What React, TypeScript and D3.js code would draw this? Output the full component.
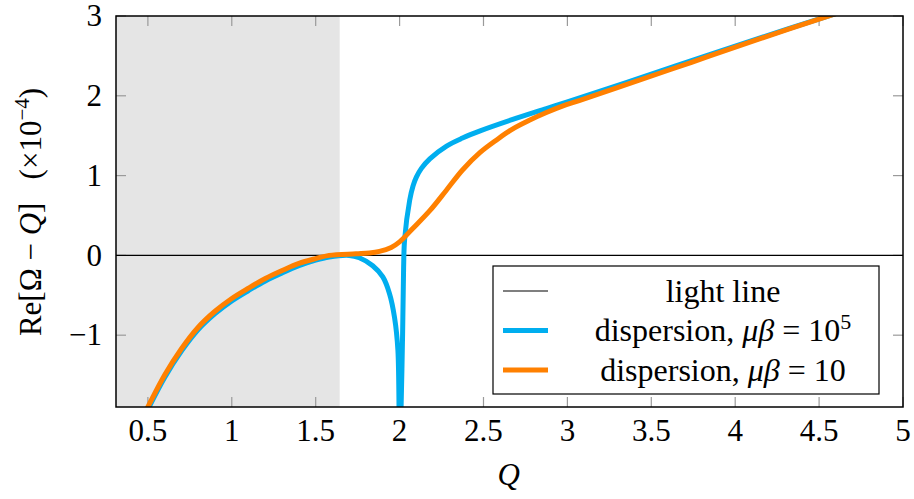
import React from "react";
import * as d3 from "d3";

// Re[Omega - Q] vs Q, two dispersion curves plus the light line
const xTicks = [0.5, 1, 1.5, 2, 2.5, 3, 3.5, 4, 4.5, 5];
const yTicks = [-1, 0, 1, 2, 3];
const shadeEnd = 1.643;

// mu*beta = 1e5 (blue)
const stiffQ = [0.46, 0.5, 0.6, 0.7, 0.8, 0.9, 1.0, 1.1, 1.2, 1.3, 1.4, 1.5, 1.58, 1.7, 1.76, 1.84, 1.9, 1.94, 1.97, 1.99, 2.0, 2.008, 2.018, 2.024, 2.03, 2.06, 2.08, 2.1, 2.13, 2.18, 2.28, 2.375, 2.48, 2.67, 2.875, 3.0, 3.35, 3.74, 4.14, 4.6, 4.7];
const stiffV = [-2.1, -1.93, -1.53, -1.2, -0.93, -0.73, -0.57, -0.44, -0.32, -0.22, -0.13, -0.06, -0.02, 0.0, -0.03, -0.13, -0.27, -0.48, -0.78, -1.19, -2.6, -2.0, -0.98, -0.15, 0.2, 0.69, 0.87, 0.98, 1.09, 1.21, 1.37, 1.47, 1.56, 1.7, 1.84, 1.925, 2.165, 2.44, 2.72, 3.03, 3.1];

// mu*beta = 10 (orange)
const softQ = [0.46, 0.5, 0.6, 0.7, 0.8, 0.9, 1.0, 1.1, 1.2, 1.3, 1.4, 1.5, 1.58, 1.74, 1.82, 1.88, 1.95, 2.0, 2.08, 2.18, 2.28, 2.375, 2.48, 2.58, 2.67, 2.77, 2.875, 2.97, 3.07, 3.35, 3.74, 4.14, 4.6, 4.7];
const softV = [-2.07, -1.9, -1.5, -1.17, -0.9, -0.7, -0.54, -0.41, -0.29, -0.19, -0.1, -0.04, 0.0, 0.02, 0.03, 0.05, 0.1, 0.17, 0.34, 0.56, 0.82, 1.07, 1.29, 1.45, 1.58, 1.69, 1.79, 1.87, 1.94, 2.14, 2.42, 2.71, 3.03, 3.1];

const W = 914, H = 499;
const m = { left: 116, right: 11, top: 16, bottom: 92 };
const FONT = "'Liberation Serif', 'DejaVu Serif', serif";
const BLUE = "#00aeef";
const ORANGE = "#ff8000";

export default function App() {
  const w = W - m.left - m.right;
  const h = H - m.top - m.bottom;
  const x = d3.scaleLinear().domain([0.31, 5]).range([0, w]);
  const y = d3.scaleLinear().domain([-1.9, 3]).range([h, 0]);
  const line = d3.line<[number, number]>().x((d) => x(d[0])).y((d) => y(d[1])).curve(d3.curveCatmullRom.alpha(0.5));
  const blue = stiffQ.map((q, i) => [q, stiffV[i]] as [number, number]);
  const orange = softQ.map((q, i) => [q, softV[i]] as [number, number]);

  const lx = 493 - m.left, ly = 266 - m.top;
  const rows = [
    { label: <>light line</>, color: "#000", sw: 1.2 },
    { label: <>dispersion, <tspan fontStyle="italic">μβ</tspan> = 10<tspan dy={-12} fontSize={22}>5</tspan></>, color: BLUE, sw: 5 },
    { label: <>dispersion, <tspan fontStyle="italic">μβ</tspan> = 10</>, color: ORANGE, sw: 5 },
  ];

  return (
    <svg width={W} height={H} style={{ position: "absolute", left: 0, top: 0, background: "#fff" }} fontFamily={FONT}>
      <defs>
        <clipPath id="plot"><rect width={w} height={h} /></clipPath>
      </defs>
      <g transform={`translate(${m.left},${m.top})`}>
        <rect width={x(shadeEnd)} height={h} fill="#e5e5e5" />
        {/* ticks, all four sides, inward */}
        {xTicks.map((t) => (
          <g key={"x" + t} stroke="#9a9a9a" strokeWidth={1.2}>
            <line x1={x(t)} x2={x(t)} y1={h} y2={h - 10} />
            <line x1={x(t)} x2={x(t)} y1={0} y2={10} />
          </g>
        ))}
        {yTicks.map((t) => (
          <g key={"y" + t} stroke="#9a9a9a" strokeWidth={1.2}>
            <line x1={0} x2={10} y1={y(t)} y2={y(t)} />
            <line x1={w} x2={w - 10} y1={y(t)} y2={y(t)} />
          </g>
        ))}
        <g clipPath="url(#plot)">
          <line x1={0} x2={w} y1={y(0)} y2={y(0)} stroke="#000" strokeWidth={1.2} />
          <path d={line(blue) || ""} fill="none" stroke={BLUE} strokeWidth={5} />
          <path d={line(orange) || ""} fill="none" stroke={ORANGE} strokeWidth={5} />
        </g>
        <rect width={w} height={h} fill="none" stroke="#000" strokeWidth={1.5} />
        {xTicks.map((t) => (
          <text key={"xl" + t} x={x(t)} y={h + 34} textAnchor="middle" fontSize={31}>{t}</text>
        ))}
        {yTicks.map((t) => (
          <text key={"yl" + t} x={-14} y={y(t)} dy="0.33em" textAnchor="end" fontSize={31}>{t < 0 ? "−" + Math.abs(t) : t}</text>
        ))}
        <text x={x(2.65)} y={h + 78} textAnchor="middle" fontSize={31} fontStyle="italic">Q</text>
        <g transform={`translate(${lx},${ly})`}>
          <rect width={386} height={128} fill="#fff" stroke="#000" strokeWidth={1.2} />
          {rows.map((r, i) => (
            <g key={i} transform={`translate(0,${25 + i * 39.5})`}>
              <line x1={10} x2={55} y1={0} y2={0} stroke={r.color} strokeWidth={r.sw} />
              <text x={230} y={0} dy="0.33em" textAnchor="middle" fontSize={32}>{r.label}</text>
            </g>
          ))}
        </g>
      </g>
      <text transform={`translate(41,212) rotate(-90)`} textAnchor="middle" fontSize={31}>
        Re[Ω − <tspan fontStyle="italic">Q</tspan>]{"\u00a0\u00a0\u00a0"}(×10<tspan dy={-12} fontSize={21}>−4</tspan><tspan dy={12}>)</tspan>
      </text>
    </svg>
  );
}
